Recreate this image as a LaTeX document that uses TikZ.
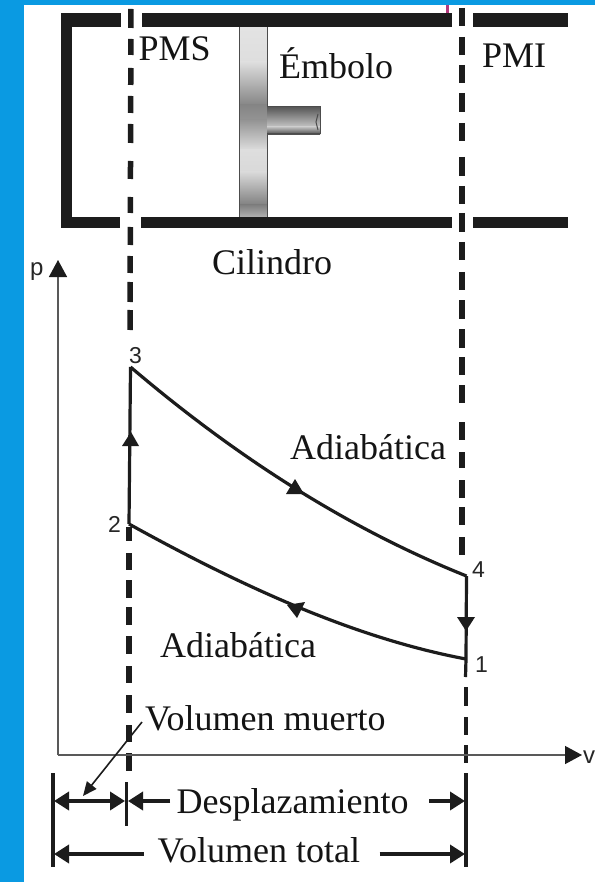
\documentclass[tikz,border=0pt]{standalone}
\usepackage{fontspec}
\setmainfont{Liberation Serif}
\newfontfamily\digfont{Liberation Sans}
\usetikzlibrary{arrows.meta}
\definecolor{bluebg}{HTML}{0A9AE2}
\definecolor{barcol}{HTML}{1C1C1C}
\tikzset{
  lbl/.style={anchor=base west,inner sep=0pt,font=\fontsize{36}{40}\selectfont,text=black!92},
  dig/.style={anchor=base west,inner sep=0pt,font=\digfont\fontsize{23}{26}\selectfont,text=black!85},
  wall/.style={fill=barcol,draw=none},
  dashbar/.style={line width=5.5pt,draw=barcol},
  thindash/.style={line width=4pt,draw=barcol},
  cycle line/.style={line width=3.2pt,draw=barcol},
  head/.style={fill=barcol,draw=none},
  axisline/.style={line width=1.4pt,draw=black!65},
  axtip/.style={-{Triangle[length=17pt,width=18pt,color=barcol,fill=barcol]}},
  tick/.style={line width=3.6pt,draw=barcol},
  dim/.style={line width=3.6pt,draw=barcol,{Triangle[length=15pt,width=18pt]}-{Triangle[length=15pt,width=18pt]}},
  dimr/.style={line width=3.6pt,draw=barcol,-{Triangle[length=15pt,width=18pt]}}
}
\begin{document}
\begin{tikzpicture}[x=1pt,y=-1pt]
\useasboundingbox (0,0) rectangle (595,882);
\fill[white] (0,0) rectangle (595,882);
\fill[bluebg] (0,0) rectangle (24,882);
\fill[bluebg] (0,0) rectangle (595,5);
\fill[magenta!70!black] (446,5) rectangle (448.5,14);
% piston
\foreach \ya/\yb/\ca/\cb in {27/62/11/13,62/105/13/48,105/120/48/42,120/150/42/13,150/172/13/15,172/205/15/50,205/217/50/30}{
  \shade[top color=black!\ca,bottom color=black!\cb,draw=none] (239,\ya) rectangle (267,\yb+0.4);
}
\draw[line width=1pt,black!70] (239,27) -- (239,217) (267,27) -- (267,217);
% rod
\foreach \ya/\yb/\ca/\cb in {107/112/65/55,112/127/55/22,127/134/25/70}{
  \shade[top color=black!\ca,bottom color=black!\cb,draw=none] (267,\ya) rectangle (320,\yb+0.3);
}
\draw[line width=1pt,black!70] (267,107) -- (320,107) -- (320,134) -- (267,134);
\draw[line width=1pt,black!70] (318,114) -- (316,122) -- (318,130);
% cylinder
\fill[wall] (61,13) rectangle (121,27);
\fill[wall] (142,13) rectangle (452,27);
\fill[wall] (472.5,13) rectangle (568,27);
\fill[wall] (61,13) rectangle (72,228);
\fill[wall] (61,217) rectangle (120,228);
\fill[wall] (141,217) rectangle (452,228);
\fill[wall] (472.5,217) rectangle (568,228);
% coordinates
\coordinate (p3) at (130.5,367);
\coordinate (p2) at (129,524);
\coordinate (p4) at (466.5,576);
\coordinate (p1) at (466,659);
\coordinate (pe) at (465.5,677);
\coordinate (o) at (58,755);
\coordinate (yend) at (58,260);
\coordinate (xend) at (582,755);
% dashed lines
\foreach \a/\b in {9/28,39/55,68/85,96/113,124/143,161/179,197/213,227/245,256/273,282/302,310/330}{
  \draw[dashbar] (131-\a*0.003,\a) -- (131-\b*0.003,\b);
}
\foreach \a/\b in {527/541,553/570,580/598,607/625,636/654,666/683,695/713,725/742,753/771}{
  \draw[dashbar] (129,\a) -- (129,\b);
}
\foreach \a/\b in {8/26,37/55,65/83,93/112,123/141,157/176,186/204,213/232,242/260,272/290,300/319,329/348,357/375,385/403,422/440,452/468,480/498,507/525,537/555}{
  \draw[dashbar] (462,\a) -- (462,\b);
}
\foreach \a/\b in {687/706,717/735,745/763}{
  \draw[thindash] (465.5,\a) -- (465.5,\b);
}
% axes
\draw[axisline,axtip] (o) -- (yend);
\draw[axisline,axtip] (o) -- (xend);
\node[anchor=base west,inner sep=0pt,font=\digfont\fontsize{24}{26}\selectfont,text=black!85] (plab) at (30,276) {p};
\node[anchor=base west,inner sep=0pt,font=\digfont\fontsize{24}{26}\selectfont,text=black!85] (vlab) at (583,763) {v};
% cycle
\draw[cycle line] (p2) -- (p3);
\draw[cycle line] (p3) .. controls (242,462) and (354,531) .. (p4);
\draw[cycle line] (p4) -- (p1) -- (pe);
\draw[cycle line] (p2) .. controls (241,586) and (354,638) .. (p1);
\fill[head] (131,432) -- (122,446) -- (139,446) -- cycle;
\fill[head] (295,479) -- (286,494) -- (304,494) -- cycle;
\fill[head] (287,605) -- (305,602) -- (297,618) -- cycle;
\fill[head] (457,617) -- (475,617) -- (466,631) -- cycle;
% labels
\node[lbl] (pms) at (138.5,61) {PMS};
\node[lbl] (emb) at (279,79) {Émbolo};
\node[lbl] (pmi) at (482,68) {PMI};
\node[lbl] (cil) at (212,274) {Cilindro};
\node[lbl] (ad1) at (290,459) {Adiabática};
\node[lbl] (ad2) at (160,657) {Adiabática};
\node[lbl] (vm) at (145,730) {Volumen muerto};
\node[lbl] (des) at (176.5,813) {Desplazamiento};
\node[lbl] (vt) at (157.5,862) {Volumen total};
\node[dig] (n3) at (129,363) {3};
\node[dig] (n2) at (108,532) {2};
\node[dig] (n4) at (472,577) {4};
\node[dig] (n1) at (475,672) {1};
% dimensions
\coordinate (ta) at (53,773);
\coordinate (tb) at (53,867);
\coordinate (tc) at (126.5,782);
\coordinate (td) at (126.5,826);
\coordinate (te) at (466,773);
\coordinate (tf) at (466,867);
\draw[tick] (ta) -- (tb);
\draw[tick] (tc) -- (td);
\draw[tick] (te) -- (tf);
\coordinate (d1a) at (54,801);
\coordinate (d1b) at (125,801);
\coordinate (d2a) at (170,801);
\coordinate (d2b) at (128,801);
\coordinate (d3a) at (429,801);
\coordinate (d3b) at (465,801);
\coordinate (d4a) at (143.5,854);
\coordinate (d4b) at (54,854);
\coordinate (d5a) at (379.5,854);
\coordinate (d5b) at (465,854);
\draw[dim] (d1a) -- (d1b);
\draw[dimr] (d2a) -- (d2b);
\draw[dimr] (d3a) -- (d3b);
\draw[dimr] (d4a) -- (d4b);
\draw[dimr] (d5a) -- (d5b);
\coordinate (la1) at (142,722);
\coordinate (la2) at (83,796);
\draw[line width=1.6pt,draw=barcol,-{Triangle[length=14pt,width=12pt]}] (la1) -- (la2);
\end{tikzpicture}
\end{document}
